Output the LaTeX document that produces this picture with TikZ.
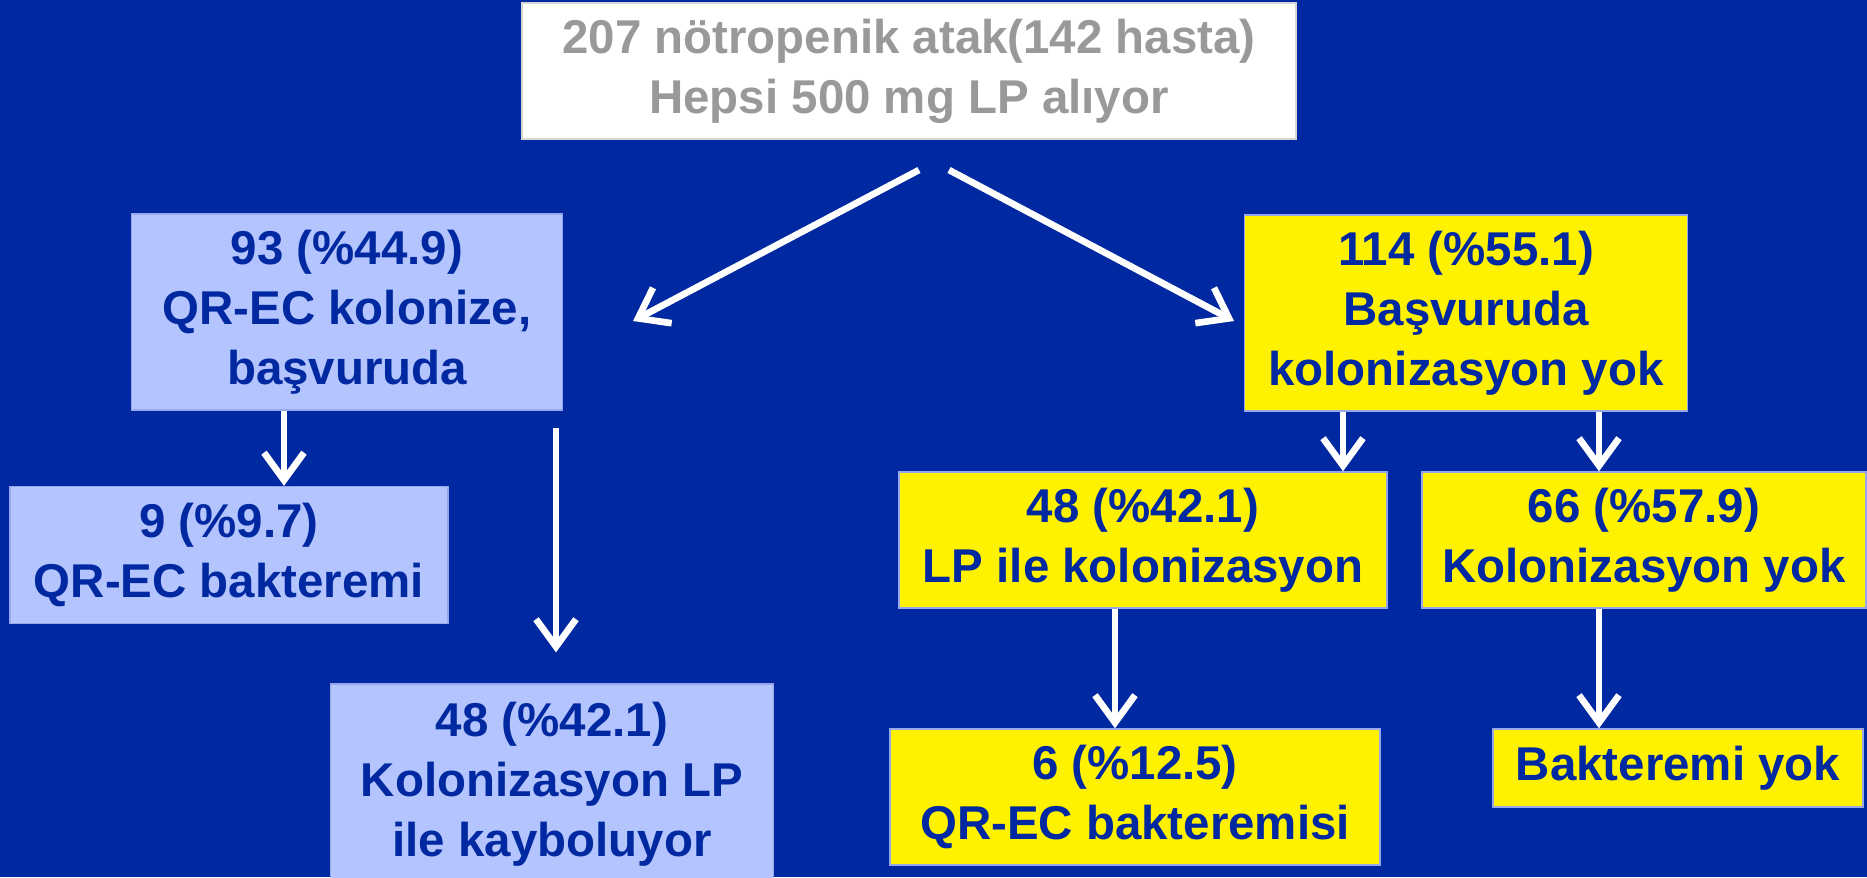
\documentclass[tikz,border=0pt]{standalone}
\usepackage{fontspec}
\setmainfont{Liberation Sans}
\usetikzlibrary{arrows.meta}
\definecolor{bgblue}{RGB}{0,40,160}
\definecolor{boxblue}{RGB}{180,196,255}
\definecolor{boxline}{RGB}{150,168,235}
\definecolor{txtgray}{RGB}{153,153,153}
\begin{document}
\begin{tikzpicture}[x=0.02cm,y=-0.02cm,
  lbox/.style={draw=boxline, line width=0.8pt, fill=boxblue, text=bgblue, align=center,
    font=\fontsize{27}{34}\selectfont\bfseries, inner sep=0pt},
  ybox/.style={lbox, fill=yellow},
  arr/.style={->, white, line width=3.8pt},
  >={Straight Barb[length=0.55cm,width=0.8cm]}]
\clip (0,0) rectangle (1867,877);
\fill[bgblue] (0,0) rectangle (1867,877);
\node(atak) at (909,71) [lbox, fill=white, draw=txtgray!40, text=txtgray, minimum width=15.48cm, minimum height=2.72cm]{207 nötropenik atak(142 hasta)\\Hepsi 500 mg LP alıyor};
\node(kol) at (347,312) [lbox, minimum width=8.62cm, minimum height=3.92cm]{93 (\%44.9)\\QR-EC kolonize,\\başvuruda};
\node(yok) at (1466,313) [ybox, minimum width=8.86cm, minimum height=3.92cm]{114 (\%55.1)\\Başvuruda\\kolonizasyon yok};
\node(bak) at (229,555) [lbox, minimum width=8.76cm, minimum height=2.74cm]{9 (\%9.7)\\QR-EC bakteremi};
\node(kay) at (552,784) [lbox, minimum width=8.86cm, minimum height=4cm]{48 (\%42.1)\\Kolonizasyon LP\\ile kayboluyor};
\node(lpk) at (1143,540) [ybox, minimum width=9.76cm, minimum height=2.72cm]{48 (\%42.1)\\LP ile kolonizasyon};
\node(kyok) at (1644,540) [ybox, minimum width=8.88cm, minimum height=2.72cm]{66 (\%57.9)\\Kolonizasyon yok};
\node(bak6) at (1135,797) [ybox, minimum width=9.8cm, minimum height=2.72cm]{6 (\%12.5)\\QR-EC bakteremisi};
\node(byok) at (1678,768) [ybox, minimum width=7.4cm, minimum height=1.56cm]{Bakteremi yok};

\coordinate (d1) at (919,170);
\coordinate (d2) at (633,321);
\coordinate (d3) at (949,170);
\coordinate (d4) at (1234,321);
\coordinate (c1) at (284,0);
\coordinate (c2) at (556,0);
\coordinate (c3) at (1343,0);
\coordinate (c4) at (1599,0);
\coordinate (c5) at (1115,0);

\draw [arr] (d1) -- (d2);
\draw [arr] (d3) -- (d4);
\draw [arr] (kol.south -| c1) -- (bak.north -| c1);
\draw [arr, shorten <=0.34cm, shorten >=0.62cm] (kol.south -| c2) -- (kay.north -| c2);
\draw [arr] (yok.south -| c3) -- (lpk.north -| c3);
\draw [arr] (yok.south -| c4) -- (kyok.north -| c4);
\draw [arr] (lpk.south -| c5) -- (bak6.north -| c5);
\draw [arr] (kyok.south -| c4) -- (byok.north -| c4);

\end{tikzpicture}
\end{document}
